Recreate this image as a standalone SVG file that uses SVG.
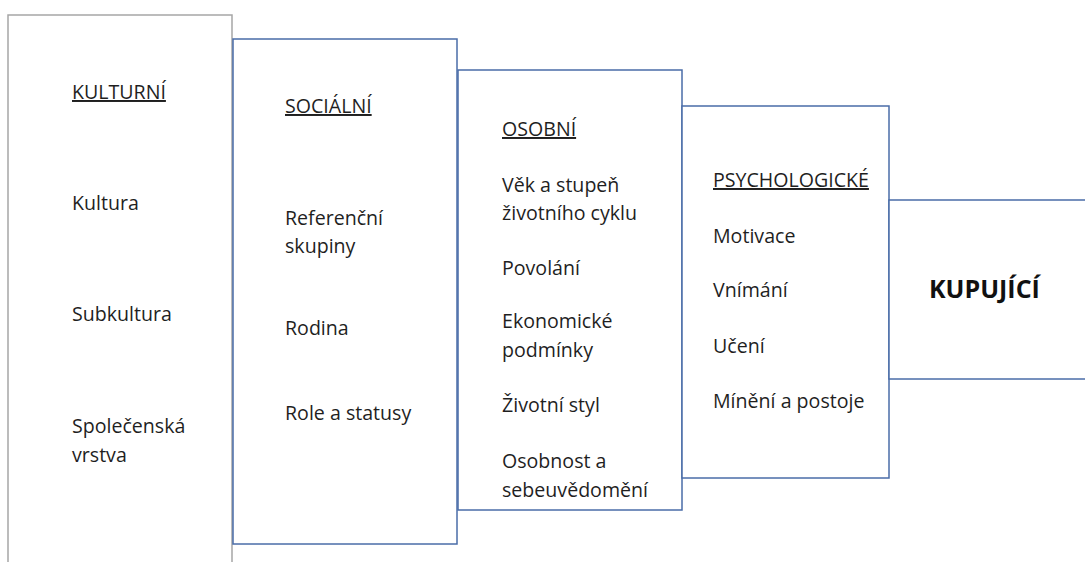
<svg xmlns="http://www.w3.org/2000/svg" width="1085" height="562" viewBox="0 0 1085 562">
<style>
text{font-family:"Open Sans","Noto Sans","Liberation Sans",sans-serif;font-size:19.6px;fill:#1f1f1f}
.h{text-decoration:underline}
.b{font-weight:bold;font-size:25px;fill:#111}
.gray{fill:#fff;stroke:#a6a6a6;stroke-width:1.5}
.blue{fill:#fff;stroke:#4a6ca8;stroke-width:1.5}
</style>
<rect width="1085" height="562" fill="#fff"/>
<g id="kulturni">
<rect class="gray" x="8" y="15" width="224" height="570"/>
<text x="72" y="99" class="h">KULTURNÍ</text>
<text x="72" y="210">Kultura</text>
<text x="72" y="321">Subkultura</text>
<text x="72" y="433">Společenská</text>
<text x="72" y="462">vrstva</text>
</g>
<g id="socialni">
<rect class="blue" x="233" y="39" width="224" height="505"/>
<text x="285" y="113" class="h">SOCIÁLNÍ</text>
<text x="285" y="225">Referenční</text>
<text x="285" y="253">skupiny</text>
<text x="285" y="335">Rodina</text>
<text x="285" y="420">Role a statusy</text>
</g>
<g id="osobni">
<rect class="blue" x="458" y="70" width="224" height="440"/>
<text x="502" y="136" class="h">OSOBNÍ</text>
<text x="502" y="192">Věk a stupeň</text>
<text x="502" y="220">životního cyklu</text>
<text x="502" y="275">Povolání</text>
<text x="502" y="328">Ekonomické</text>
<text x="502" y="357">podmínky</text>
<text x="502" y="412">Životní styl</text>
<text x="502" y="468">Osobnost a</text>
<text x="502" y="497">sebeuvědomění</text>
</g>
<g id="psychologicke">
<rect class="blue" x="682" y="106" width="207" height="372"/>
<text x="713" y="187" class="h">PSYCHOLOGICKÉ</text>
<text x="713" y="243">Motivace</text>
<text x="713" y="297">Vnímání</text>
<text x="713" y="353">Učení</text>
<text x="713" y="408">Mínění a postoje</text>
</g>
<g id="kupujici">
<rect class="blue" x="889" y="200" width="220" height="179"/>
<text x="929" y="298" class="b">KUPUJÍCÍ</text>
</g>
<g id="connectors"></g>
</svg>
